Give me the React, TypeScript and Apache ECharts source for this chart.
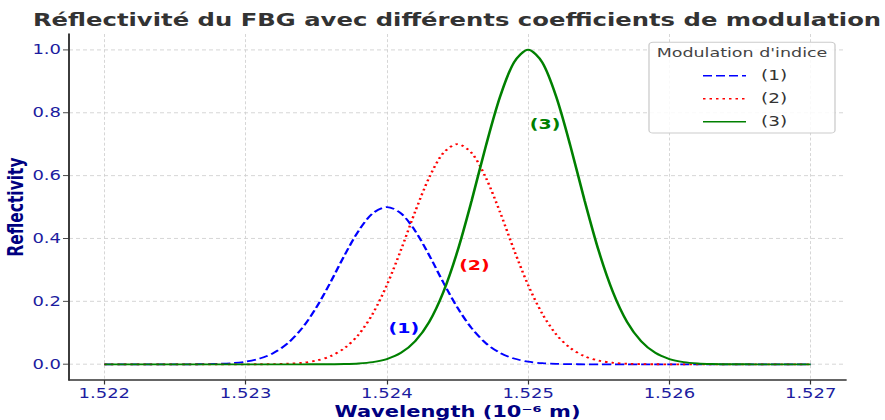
import React, { useEffect, useRef } from "react";
import * as echarts from "echarts";

const TITLE = "Réflectivité du FBG avec différents coefficients de modulation";
const X_LABEL = "Wavelength (10⁻⁶ m)";
const Y_LABEL = "Reflectivity";
const LEGEND_TITLE = "Modulation d'indice";
const SERIES_NAMES = ["(1)", "(2)", "(3)"];

const wavelengths = [
  1.522, 1.5221, 1.5222, 1.5223, 1.5224, 1.5225, 1.5226, 1.5227, 1.5228, 1.5229,
  1.523, 1.5231, 1.5232, 1.5233, 1.5234, 1.5235, 1.5236, 1.5237, 1.5238, 1.5239,
  1.524, 1.5241, 1.5242, 1.5243, 1.5244, 1.5245, 1.5246, 1.5247, 1.5248, 1.5249,
  1.525, 1.5251, 1.5252, 1.5253, 1.5254, 1.5255, 1.5256, 1.5257, 1.5258, 1.5259,
  1.526, 1.5261, 1.5262, 1.5263, 1.5264, 1.5265, 1.5266, 1.5267, 1.5268, 1.5269,
  1.527,
];

const reflect1 = [
  0, 0, 0, 0, 0, 0.0001, 0.0002, 0.0005, 0.0014, 0.0036,
  0.0085, 0.0184, 0.0367, 0.0675, 0.115, 0.18, 0.26, 0.3465, 0.4245, 0.48,
  0.5, 0.48, 0.4245, 0.3465, 0.26, 0.18, 0.115, 0.0675, 0.0367, 0.0184,
  0.0085, 0.0036, 0.0014, 0.0005, 0.0002, 0.0001, 0, 0, 0, 0,
  0, 0, 0, 0, 0, 0, 0, 0, 0, 0,
  0,
];

const reflect2 = [
  0, 0, 0, 0, 0, 0, 0, 0, 0, 0,
  0.0001, 0.0002, 0.0007, 0.002, 0.005, 0.0118, 0.0257, 0.0514, 0.0945, 0.161,
  0.252, 0.364, 0.485, 0.594, 0.672, 0.7, 0.672, 0.594, 0.485, 0.364,
  0.252, 0.161, 0.0945, 0.0514, 0.0257, 0.0118, 0.005, 0.002, 0.0007, 0.0002,
  0.0001, 0, 0, 0, 0, 0, 0, 0, 0, 0,
  0,
];

const reflect3 = [
  0, 0, 0, 0, 0, 0, 0, 0, 0, 0,
  0, 0, 0, 0, 0, 0.0001, 0.0003, 0.001, 0.0028, 0.0072,
  0.0169, 0.0367, 0.0734, 0.135, 0.23, 0.36, 0.52, 0.693, 0.849, 0.96,
  1, 0.96, 0.849, 0.693, 0.52, 0.36, 0.23, 0.135, 0.0734, 0.0367,
  0.0169, 0.0072, 0.0028, 0.001, 0.0003, 0.0001, 0, 0, 0, 0,
  0,
];

const xTicks = [1.522, 1.523, 1.524, 1.525, 1.526, 1.527];
const yTicks = [0, 0.2, 0.4, 0.6, 0.8, 1.0];

// annotation anchor points [wavelength, reflectivity]
const annotations = [
  [1.52412, 0.116],
  [1.52462, 0.316],
  [1.52512, 0.765],
];

const COLORS = ["#0000ff", "#ff0000", "#008000"];
const FONT = "DejaVu Sans";
const TICK_COLOR = "#1c1ca0";
const NAVY = "#000080";

// The reference figure is vertically compressed; the chart is drawn in a
// taller box and squeezed to 420px with a CSS transform.
const W = 885;
const H_TALL = 568;
const SCALE_Y = 420 / H_TALL;

export default function App() {
  const ref = useRef<HTMLDivElement>(null);

  useEffect(() => {
    if (!ref.current) return;
    const chart = echarts.init(ref.current, null, { renderer: "svg" });
    const seriesData = [reflect1, reflect2, reflect3];
    const dashes: any[] = [[9, 4], [2.5, 4], "solid"];
    const widths = [2.4, 2.5, 2.6];

    const series = seriesData.map((vals, i) => ({
      name: SERIES_NAMES[i],
      type: "line",
      data: wavelengths.map((w, j) => [w, vals[j]]),
      symbol: "none",
      smooth: 0.3,
      z: 3 + i,
      lineStyle: { color: COLORS[i], width: widths[i], type: dashes[i] },
      itemStyle: { color: COLORS[i] },
      markPoint: {
        symbol: "rect",
        symbolSize: 1,
        itemStyle: { color: "rgba(0,0,0,0)" },
        label: {
          show: true,
          position: "inside",
          formatter: SERIES_NAMES[i],
          color: COLORS[i],
          fontFamily: FONT,
          fontWeight: "bold",
          fontSize: 19,
        },
        data: [{ coord: annotations[i] }],
      },
    }));

    chart.setOption({
      animation: false,
      backgroundColor: "#ffffff",
      grid: { left: 69, top: 46, width: 777, height: 468, containLabel: false, outerBoundsMode: "none" },
      xAxis: {
        type: "value",
        min: 1.52175,
        max: 1.52725,
        name: X_LABEL,
        nameLocation: "middle",
        nameGap: 27,
        nameTextStyle: { color: NAVY, fontFamily: FONT, fontWeight: "bold", fontSize: 21 },
        axisLine: { show: true, onZero: false, lineStyle: { color: "#333", width: 1.9 } },
        axisTick: { show: true, length: 6, inside: false, lineStyle: { color: "#333", width: 1.2 }, customValues: xTicks },
        axisLabel: {
          customValues: xTicks,
          formatter: (v: number) => v.toFixed(3),
          color: TICK_COLOR,
          fontFamily: FONT,
          fontSize: 18,
          margin: 9,
        },
        splitLine: { show: true, lineStyle: { color: "#d0d0d0", type: [4, 3], width: 1 } },
      },
      yAxis: {
        type: "value",
        min: -0.05,
        max: 1.05,
        name: Y_LABEL,
        nameLocation: "middle",
        nameRotate: 90,
        nameGap: 43,
        nameMoveOverlap: false,
        nameTextStyle: { color: NAVY, fontFamily: FONT, fontWeight: "bold", fontSize: 21 },
        axisLine: { show: true, lineStyle: { color: "#333", width: 1.9 } },
        axisTick: { show: true, length: 6, inside: false, lineStyle: { color: "#333", width: 1.2 }, customValues: yTicks },
        axisLabel: {
          customValues: yTicks,
          formatter: (v: number) => v.toFixed(1),
          color: TICK_COLOR,
          fontFamily: FONT,
          fontSize: 18,
          margin: 8,
        },
        splitLine: { show: true, lineStyle: { color: "#d0d0d0", type: [4, 3], width: 1 } },
      },
      legend: {
        orient: "vertical",
        left: 697,
        top: 88,
        itemWidth: 43,
        itemHeight: 18,
        itemGap: 12,
        data: SERIES_NAMES,
        itemStyle: { opacity: 0 },
        textStyle: { color: "#333", fontFamily: FONT, fontSize: 18.5, padding: [0, 0, 0, 10] },
      },
      graphic: [
        {
          type: "text",
          x: 457,
          y: 26,
          z: 10,
          style: {
            text: TITLE,
            fill: "#333",
            font: `bold 24.3px "${FONT}"`,
            textAlign: "center",
            textVerticalAlign: "middle",
          },
        },
        {
          type: "rect",
          z: 3,
          shape: { x: 649, y: 57, width: 186, height: 123, r: 4 },
          style: { fill: "rgba(255,255,255,0.85)", stroke: "#cccccc", lineWidth: 1.3 },
        },
        {
          type: "text",
          x: 742,
          y: 71,
          z: 4,
          style: {
            text: LEGEND_TITLE,
            fill: "#444",
            font: `17.5px "${FONT}"`,
            textAlign: "center",
            textVerticalAlign: "middle",
          },
        },
      ],
      series,
    });

    return () => chart.dispose();
  }, []);

  return (
    <div
      style={{
        position: "fixed",
        left: 0,
        top: 0,
        width: W,
        height: 420,
        overflow: "hidden",
        background: "#fff",
      }}
    >
      <div
        ref={ref}
        style={{
          width: W,
          height: H_TALL,
          transform: `scaleY(${SCALE_Y})`,
          transformOrigin: "0 0",
        }}
      />
    </div>
  );
}
